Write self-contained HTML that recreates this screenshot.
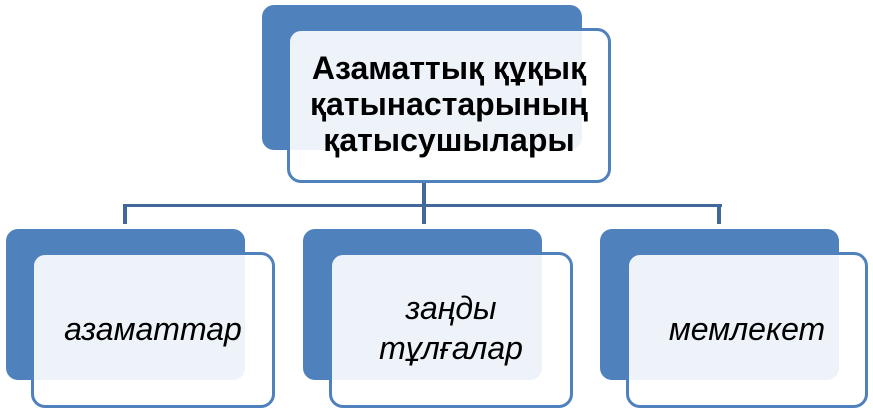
<!DOCTYPE html>
<html><head><meta charset="utf-8"><style>
body{margin:0;width:873px;height:409px;background:#fff;position:relative;overflow:hidden;font-family:"Liberation Sans","DejaVu Sans",sans-serif}
.b{position:absolute;background:#4f81bd;border-radius:12px}
.w{position:absolute;background:rgba(255,255,255,0.9);border:3px solid #4f81bd;border-radius:14px;box-sizing:border-box;display:flex;align-items:center;justify-content:center;text-align:center;color:#000}
.l{position:absolute;background:#41689a}
.it{font-style:italic;font-size:32px;line-height:40px}
</style></head><body>
<div class="l" style="left:422px;top:180px;width:4px;height:27px"></div>
<div class="l" style="left:123px;top:204px;width:599px;height:3px"></div>
<div class="l" style="left:123px;top:204px;width:4px;height:20px"></div>
<div class="l" style="left:422px;top:204px;width:4px;height:20px"></div>
<div class="l" style="left:717px;top:204px;width:4px;height:20px"></div>

<div class="b" style="left:262px;top:5px;width:320px;height:145px"></div>
<div class="w" style="left:287px;top:28px;width:324px;height:155px;font-weight:bold;font-size:32px;line-height:36px"><div style="margin-top:-4px">Азаматтық құқық<br>қатынастарының<br>қатысушылары</div></div>

<div class="b" style="left:6px;top:229px;width:239px;height:151px"></div>
<div class="w it" style="left:31px;top:252px;width:244px;height:156px"><div style="margin-top:-2px">азаматтар</div></div>

<div class="b" style="left:303px;top:229px;width:239px;height:151px"></div>
<div class="w it" style="left:329px;top:252px;width:244px;height:156px"><div style="margin-top:-4px">заңды<br>тұлғалар</div></div>

<div class="b" style="left:600px;top:229px;width:239px;height:151px"></div>
<div class="w it" style="left:626px;top:252px;width:242px;height:156px"><div style="margin-top:-2px">мемлекет</div></div>
</body></html>
